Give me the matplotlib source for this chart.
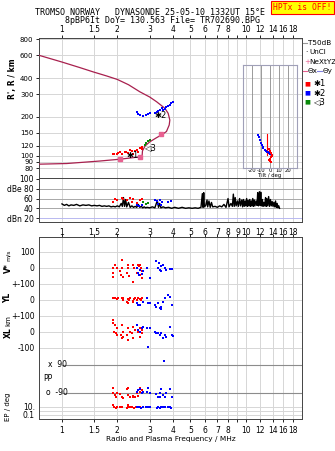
import matplotlib
matplotlib.use("Agg")
import matplotlib.pyplot as plt
import numpy as np

# ---------------- data ----------------
freq_ticks = [1, 1.5, 2, 3, 4, 5, 6, 7, 8, 9, 10, 12, 14, 16, 18]
freq_labels_top = ["1", "1.5", "2", "3", "4", "5", "6", "7", "8", "", "10", "12", "14", "16", "18"]
freq_labels_db = ["1", "1.5", "2", "3", "4", "5", "6", "7", "8", "9", "10", "12", "14", "16", "18"]
freq_labels_bot = freq_labels_top
range_ticks = [80, 90, 100, 120, 150, 200, 300, 400, 600, 800]
db_ticks = [20, 40, 60, 80, 100]
db_labels = ["dBn 20", "40", "60", "dBe 80", "100"]
tilt_ticks = [-20, -10, 0, 10, 20]

# model profile curve (frequency MHz, range km)
profile_freq = [0.75, 1.0, 1.25, 1.48, 1.75, 2.0, 2.3, 2.65, 3.0, 3.27, 3.63, 3.78, 3.86, 3.83,
                3.70, 3.48, 3.27, 3.0, 2.83, 2.74, 2.73, 2.65, 2.07, 1.61, 1.06, 0.75]
profile_range = [600, 532, 482, 446, 415, 390, 355, 313, 285, 262, 233, 213, 189, 173,
                 154, 145, 138, 128, 119, 109, 101, 98, 94, 91, 87, 86]
nextyz_freq = [2.08, 2.65, 3.44]
nextyz_range = [94, 98, 147]

# echoes: *1 (red), *2 (blue), <3 (green)
o_freq = [1.90, 1.93, 1.98, 2.02, 2.07, 2.11, 2.20, 2.24, 2.29, 2.33, 2.39, 2.44, 2.50, 2.55, 2.60, 2.65, 2.71, 2.74]
o_range = [103, 103, 104, 105, 107, 104, 107, 106, 105, 110, 109, 104, 109, 111, 107, 114, 112, 116]
x_freq = [2.55, 2.60, 2.66, 2.76, 2.88, 2.94, 3.0, 3.20, 3.28, 3.34, 3.42, 3.48, 3.55, 3.62, 3.70, 3.78, 3.86, 3.94, 4.0]
x_range = [219, 210, 205, 203, 207, 209, 213, 215, 220, 223, 228, 233, 226, 232, 237, 242, 247, 255, 259]
z_freq = [2.83, 2.88, 2.94, 3.0]
z_range = [122, 126, 130, 132]

# tilt inset (deg, km)
tilt_x_deg = [-12.8, -12.0, -11.0, -10.0, -9.1, -8.2, -7.3, -5.8, -4.4, -3.0, -1.9, -0.8, 0.0]
tilt_x_range = [145, 139, 132, 126, 121, 117, 114, 111, 109, 107, 106, 105, 104]
tilt_o_deg = [-1, 0, 1, 2, 2, 1, 0, -1, 0, 1]
tilt_o_range = [112, 108, 105, 102, 99, 97, 95, 93, 91, 90]
tilt_o_line_deg = [-3, -3]
tilt_o_line_range = [101, 147]

# amplitude panel
noise_freq = [1.00, 1.03, 1.06, 1.09, 1.12, 1.16, 1.20, 1.25, 1.30, 1.35, 1.40, 1.45, 1.50, 1.55,
              1.60, 1.65, 1.70, 1.75, 1.80, 1.85, 1.90, 1.95, 2.00, 2.05, 2.10, 2.13, 2.16, 2.19,
              2.22, 2.25, 2.30, 2.35, 2.40, 2.45, 2.50, 2.55, 2.60, 2.65, 2.70, 2.75, 2.80, 2.85,
              2.90, 3.00, 3.10, 3.20, 3.30, 3.35, 3.40, 3.45, 3.55, 3.65, 3.80, 3.95, 4.10, 4.30,
              4.50, 4.70, 4.90, 5.10, 5.30, 5.50, 5.70, 5.80, 5.85, 5.90, 5.95, 6.05, 6.15, 6.20,
              6.30, 6.40, 6.50, 6.60, 6.80, 7.00, 7.20, 7.40, 7.60, 7.80, 8.00, 8.10, 8.30, 8.45,
              8.55, 8.65, 8.75, 8.85, 9.00, 9.10, 9.25, 9.35, 9.50, 9.60, 9.70, 9.80, 9.90, 10.0,
              10.1, 10.2, 10.3, 10.4, 10.5, 10.6, 10.7, 10.8, 10.9, 11.0, 11.1, 11.2, 11.35, 11.5,
              11.6, 11.7, 11.85, 11.95, 12.05, 12.15, 12.3, 12.4, 12.5, 12.65, 12.8, 12.9, 13.0,
              13.15, 13.3, 13.45, 13.6, 13.75, 13.9, 14.05, 14.2, 14.35, 14.5, 14.65, 14.8, 14.95,
              15.1, 15.25]
noise_db = [49, 46, 48, 45, 47, 46, 48, 45, 47, 46, 47, 45, 46, 45,
            46, 44, 45, 44, 45, 43, 44, 43, 45, 43, 50, 44, 62, 44,
            58, 43, 52, 42, 45, 42, 44, 42, 48, 42, 44, 41, 43, 41,
            42, 41, 43, 41, 56, 42, 50, 41, 43, 41, 42, 40, 42, 40,
            42, 40, 41, 40, 41, 40, 42, 70, 42, 72, 43, 46, 57, 43,
            55, 42, 52, 43, 44, 42, 45, 43, 48, 42, 60, 43, 50, 44,
            69, 44, 62, 45, 55, 44, 60, 45, 57, 43, 58, 44, 55, 45,
            60, 44, 56, 45, 58, 44, 55, 45, 60, 44, 57, 45, 55, 46,
            72, 45, 74, 46, 73, 45, 58, 44, 52, 45, 62, 44, 60,
            45, 64, 44, 58, 45, 54, 44, 52, 43, 55, 42, 50, 41,
            45, 40]
amp_o_freq = [1.90, 1.94, 1.98, 2.11, 2.15, 2.25, 2.34, 2.39, 2.44, 2.55, 2.65, 2.71]
amp_o_db = [53, 60, 57, 62, 60, 57, 62, 53, 60, 50, 57, 60]
amp_x_freq = [2.55, 2.62, 2.71, 3.20, 3.27, 3.33, 3.40, 3.45, 3.48, 3.78, 3.94]
amp_x_db = [47, 45, 47, 58, 54, 49, 56, 47, 52, 53, 55]
amp_z_freq = [2.76, 2.85, 2.94]
amp_z_db = [52, 49, 50]

# Doppler velocity V* (m/s)
v_o_freq = [1.886, 1.942, 1.984, 1.886, 1.900, 2.109, 2.109, 2.066, 2.091, 2.134, 2.277, 2.295,
            2.249, 2.322, 2.440, 2.462, 2.421, 2.546, 2.598, 2.654, 2.686, 2.709, 2.654, 2.741, 2.631]
v_o_val = [0, 21, 0, -31, -58, 52, 0, -21, -42, -58, 21, 0, -31, -52, 21, 0, -89, -31, 21, 17, 0,
           -21, -42, -62, 10]
v_x_freq = [2.546, 2.580, 2.631, 2.654, 2.709, 2.764, 2.882, 3.005, 3.266, 3.333, 3.402, 3.444,
            3.472, 3.543, 3.619, 3.694, 3.862, 3.942, 3.374]
v_x_val = [0, -31, -42, -10, -37, -21, 0, -62, 42, 0, -10, -21, 10, 21, 0, -10, -4, -6, 31]

# YL (km)
yl_o_freq = [1.886, 1.92, 1.942, 1.984, 2.02, 2.109, 2.134, 2.16, 2.249, 2.277, 2.322, 2.341,
             2.421, 2.462, 2.493, 2.546, 2.598, 2.654, 2.686, 2.741, 2.277, 2.440]
yl_o_val = [15, 10, 15, 6, 10, 10, 0, 10, -10, 6, 0, 10, -6, 6, 10, 0, 10, 6, 0, 10, -21, -10]
yl_x_freq = [2.546, 2.598, 2.654, 2.764, 2.882, 3.005, 3.201, 3.266, 3.333, 3.402, 3.472, 3.543,
             3.619, 3.771, 3.862, 3.942, 2.943, 3.444]
yl_x_val = [-21, -31, -31, -10, 10, -21, -31, -42, -21, -52, -42, -10, 10, 31, 21, -31, -21, -56]

# XL (km)
xl_o_freq = [1.886, 1.900, 1.942, 1.984, 1.92, 1.97, 2.109, 2.134, 2.091, 2.16, 2.295, 2.341,
             2.249, 2.391, 2.440, 2.493, 2.546, 2.598, 2.654, 2.709, 2.654, 2.741, 2.421, 2.277,
             2.109, 1.984]
xl_o_val = [75, 54, 44, 23, 2, -8, 44, 2, -19, -29, 23, 2, -19, -8, 33, 12, 44, 2, 23, -8, -29,
            12, -40, -50, -40, -19]
xl_x_freq = [2.56, 2.598, 2.654, 2.709, 2.764, 2.882, 3.005, 3.201, 3.266, 3.333, 3.402, 3.472,
             3.543, 3.619, 3.694, 3.862, 3.942, 3.992, 2.943, 3.58]
xl_x_val = [44, 12, 2, 23, 33, 23, 23, 2, -8, -8, -19, -8, -40, -19, -29, 33, -19, -23, -92, -179]

# polarization PP (deg) and EP (deg)
pp_o_freq = [1.886, 1.900, 1.942, 1.96, 1.984, 2.08, 2.109, 2.134, 2.249, 2.295, 2.295, 2.341,
             2.421, 2.493, 2.546, 2.598, 2.654, 2.67, 2.709, 2.741, 2.440]
pp_o_val = [-60, -88, -103, -118, -92, -96, -114, -124, -66, -60, -103, -114, -114, -114, -92,
            -109, -60, -81, -92, -71, -109]
pp_x_freq = [2.546, 2.598, 2.654, 2.709, 2.764, 2.882, 2.943, 3.005, 3.266, 3.333, 3.402, 3.472,
             3.543, 3.619, 3.694, 3.862, 3.942, 3.402]
pp_x_val = [-81, -71, -66, -92, -81, -81, -60, -88, -96, -114, -92, -66, -103, -114, -92, -66,
            -114, -118]
ep_o_freq = [1.886, 1.92, 1.96, 2.0, 2.07, 2.11, 2.25, 2.28, 2.30, 2.34, 2.40, 2.46, 2.52, 2.60,
             2.65, 2.70]
ep_o_val = [31, 8, 6, 10, 8, 12, 6, 31, 10, 8, 12, 6, 10, 8, 12, 6]
ep_x_freq = [2.55, 2.62, 2.68, 2.76, 2.88, 2.94, 3.0, 3.27, 3.33, 3.40, 3.44, 3.50, 3.57, 3.65,
             3.78, 3.86, 3.94]
ep_x_val = [8, 12, 6, 10, 8, 12, 10, 6, 10, 4.7, 8, 12, 10, 8, 10, 12, 6]

# ---------------- layout ----------------
W_PX, H_PX = 335, 451
fig = plt.figure(figsize=(W_PX / 100, H_PX / 100), dpi=100)
plt.rcParams['font.family'] = ['DejaVu Sans']


def fx(px):
    return px / W_PX


def fy(py):
    return 1 - py / H_PX


def rect(left, top, right, bottom):
    return [fx(left), fy(bottom), fx(right) - fx(left), (bottom - top) / H_PX]


L, R = 39, 302
XMIN, XMAX = 0.75, 20.2
RED, BLUE, GREEN = '#ff0000', '#0000ff', '#0a8a0a'
CURVE = '#a8204e'
PINK = '#e86090'
GRID = '#d6d6d6'
FS = 5.5


def freq_axis(ax):
    ax.set_xscale('log')
    ax.set_xlim(XMIN, XMAX)
    ax.xaxis.set_minor_locator(matplotlib.ticker.NullLocator())
    ax.set_xticks(freq_ticks)
    for f in freq_ticks:
        ax.axvline(f, color=GRID, lw=0.7, zorder=0)
    for s in ax.spines.values():
        s.set_color('#444444')
        s.set_linewidth(0.7)


# ---- top panel: range vs frequency ----
ax1 = fig.add_axes(rect(L, 38, R, 178))
freq_axis(ax1)
ax1.set_yscale('log')
Y_LO, Y_HI = 67.2, 817
ax1.set_ylim(Y_LO, Y_HI)
ax1.yaxis.set_minor_locator(matplotlib.ticker.NullLocator())
ax1.set_yticks(range_ticks)
ax1.set_yticklabels([str(v) for v in range_ticks])
for v in range_ticks:
    ax1.axhline(v, color=GRID, lw=0.7, zorder=0)
ax1.xaxis.tick_top()
ax1.set_xticklabels(freq_labels_top)
ax1.tick_params(axis='x', top=True, bottom=False, labeltop=True, labelbottom=False,
                length=2, pad=1, labelsize=FS, width=0.6)
ax1.tick_params(axis='y', length=2, pad=2, labelsize=5, width=0.6)

ax1.plot(profile_freq, profile_range, color=CURVE, lw=0.9, zorder=3)
ax1.plot(nextyz_freq, nextyz_range, ls='none', marker='s', ms=2.2, color=PINK, zorder=4)
ax1.scatter(o_freq, o_range, marker='s', s=4, color=RED, lw=0, zorder=5)
ax1.scatter(x_freq, x_range, marker='s', s=4, color=BLUE, lw=0, zorder=5)
ax1.scatter(z_freq, z_range, marker='s', s=4, color=GREEN, lw=0, zorder=5)
ax1.text(2.42, 101, "✱1", fontsize=6, ha='center', va='center', zorder=6)
ax1.text(3.42, 205, "✱2", fontsize=6, ha='center', va='center', zorder=6)
ax1.text(3.02, 116, "◁3", fontsize=6, ha='center', va='center', zorder=6)

# tilt inset, aligned with the main range scale
ins_top, ins_bot = 65, 167.7
lo, hi = np.log10(Y_LO), np.log10(Y_HI)
frac_top = (178 - ins_top) / 140
frac_bot = (178 - ins_bot) / 140
axi = fig.add_axes(rect(242.7, ins_top, 297.3, ins_bot), facecolor='none')
axi.set_yscale('log')
axi.set_ylim(10 ** (lo + frac_bot * (hi - lo)), 10 ** (lo + frac_top * (hi - lo)))
axi.set_xlim(-30, 30)
axi.set_yticks([])
axi.yaxis.set_minor_locator(matplotlib.ticker.NullLocator())
axi.set_xticks(tilt_ticks)
axi.set_xticklabels([str(t) for t in tilt_ticks])
axi.tick_params(axis='x', length=0, pad=0.5, labelsize=3.8)
for t in tilt_ticks:
    axi.axvline(t, color='#8a8a8a', lw=0.6, zorder=0)
for s in axi.spines.values():
    s.set_color('#a0a0b8')
    s.set_linewidth(0.8)
axi.plot(tilt_o_line_deg, tilt_o_line_range, color=RED, lw=0.8)
axi.scatter(tilt_x_deg, tilt_x_range, marker='s', s=4, color=BLUE, lw=0, zorder=5)
axi.scatter(tilt_o_deg, tilt_o_range, marker='s', s=4, color=RED, lw=0, zorder=5)
fig.text(fx(270), fy(175.8), "Tilt / deg", fontsize=3.8, ha='center', va='center')

# legend column
lx = 303
fig.add_artist(plt.Line2D([fx(lx), fx(lx + 4)], [fy(43), fy(43)], color='#999999', lw=0.8))
fig.text(fx(lx + 5), fy(43), "T50dB", fontsize=5.2, va='center')
fig.text(fx(lx + 2), fy(52), "·", fontsize=5.2, va='center')
fig.text(fx(lx + 6), fy(52.5), "UnCl", fontsize=5.2, va='center')
fig.text(fx(lx + 1), fy(61.5), "+", fontsize=5.2, va='center', color=PINK)
fig.text(fx(lx + 6), fy(61.5), "NeXtYZ", fontsize=5.2, va='center')
fig.add_artist(plt.Line2D([fx(lx), fx(lx + 4)], [fy(71), fy(71)], color=PINK, lw=0.8))
fig.text(fx(lx + 5), fy(71), "Θx", fontsize=5.2, va='center')
fig.add_artist(plt.Line2D([fx(lx + 14), fx(lx + 19)], [fy(71), fy(71)], color='#8080e0', lw=0.8))
fig.text(fx(lx + 20), fy(71), "Θy", fontsize=5.2, va='center')
for yy, col, lab in [(84, RED, "✱1"), (93, BLUE, "✱2"), (102, GREEN, "◁3")]:
    fig.text(fx(lx + 1), fy(yy), "■", fontsize=4.5, va='center', color=col)
    fig.text(fx(lx + 10), fy(yy), lab, fontsize=6, va='center')

# ---- amplitude panel ----
ax2 = fig.add_axes(rect(L, 178, R, 222))
freq_axis(ax2)
ax2.set_ylim(12, 102)
ax2.set_yticks(db_ticks)
ax2.set_yticklabels(db_labels)
for v, c in [(80, '#a8a8a8'), (60, '#a8a8a8'), (40, '#a8a8a8'), (20, '#b8b8f0')]:
    ax2.axhline(v, color=c, lw=0.7, zorder=0)
ax2.set_xticklabels(freq_labels_db)
ax2.tick_params(axis='x', length=0, pad=4, labelsize=FS)
ax2.tick_params(axis='y', length=2, pad=2, labelsize=FS, width=0.6)
ax2.plot(noise_freq, noise_db, color='black', lw=1.0, zorder=3)
ax2.scatter(amp_o_freq, amp_o_db, marker='s', s=4, color=RED, lw=0, zorder=5)
ax2.scatter(amp_x_freq, amp_x_db, marker='s', s=4, color=BLUE, lw=0, zorder=5)
ax2.scatter(amp_z_freq, amp_z_db, marker='s', s=4, color=GREEN, lw=0, zorder=5)

# ---- bottom panel frame (rows measured in pixels of the panel) ----
TOP_ROW, BOT_ROW = 237, 419
bot_rect = rect(L, TOP_ROW, R, BOT_ROW)
ax3 = fig.add_axes(bot_rect)
freq_axis(ax3)
ax3.set_ylim(BOT_ROW, TOP_ROW)
row_ticks = [252, 268, 284, 300, 316, 332, 348, 407, 415]
row_labels = ["100", "0", "+-100", "0", "+-100", "0", "-100", "10.", "0.1"]
ax3.set_yticks(row_ticks)
ax3.set_yticklabels(row_labels)
for r in row_ticks + [411]:
    ax3.axhline(r, color=GRID, lw=0.7, zorder=0)
x1 = (np.log10(1) - np.log10(XMIN)) / (np.log10(XMAX) - np.log10(XMIN))
for r in [365, 393]:
    ax3.axhline(r, xmin=x1, color='#8c8c8c', lw=0.8, zorder=1)
ax3.text(0.033, 365, "x  90", transform=ax3.get_yaxis_transform(), fontsize=FS, va='center')
ax3.text(0.028, 393, "o  -90", transform=ax3.get_yaxis_transform(), fontsize=FS, va='center')
ax3.text(0.015, 379, "PP", transform=ax3.get_yaxis_transform(), fontsize=FS, va='center')
ax3.set_xticklabels(freq_labels_bot)
ax3.tick_params(axis='x', top=True, direction='out', length=2, pad=3, labelsize=FS, width=0.6)
ax3.tick_params(axis='y', length=0, pad=3, labelsize=FS)


def band(zero_row, px_per_unit):
    a = fig.add_axes(bot_rect, facecolor='none')
    a.set_xscale('log')
    a.set_xlim(XMIN, XMAX)
    a.set_ylim((zero_row - BOT_ROW) / px_per_unit, (zero_row - TOP_ROW) / px_per_unit)
    a.axis('off')
    return a


ax_v = band(268, 0.16)
ax_yl = band(300, 0.16)
ax_xl = band(332, 0.16)
ax_pp = band(379, 28 / 180)
ax_ep = fig.add_axes(bot_rect, facecolor='none')
ax_ep.set_xscale('log')
ax_ep.set_xlim(XMIN, XMAX)
ax_ep.set_yscale('log')
ax_ep.set_ylim(10 ** (1 + (407 - BOT_ROW) / 4), 10 ** (1 + (407 - TOP_ROW) / 4))
ax_ep.axis('off')

for a, fo, vo, fxx, vx in [(ax_v, v_o_freq, v_o_val, v_x_freq, v_x_val),
                            (ax_yl, yl_o_freq, yl_o_val, yl_x_freq, yl_x_val),
                            (ax_xl, xl_o_freq, xl_o_val, xl_x_freq, xl_x_val),
                            (ax_pp, pp_o_freq, pp_o_val, pp_x_freq, pp_x_val),
                            (ax_ep, ep_o_freq, ep_o_val, ep_x_freq, ep_x_val)]:
    a.scatter(fo, vo, marker='s', s=4, color=RED, lw=0, zorder=5)
    a.scatter(fxx, vx, marker='s', s=4, color=BLUE, lw=0, zorder=5)

# ---- texts ----
mono = 'DejaVu Sans Mono'
fig.text(fx(35), fy(12.3), "TROMSO NORWAY   DYNASONDE 25-05-10 1332UT 15°E",
         family=mono, fontsize=6, va='center', ha='left')
fig.text(fx(65), fy(20.7), "8pBP6It DoY= 130.563 File= TR702690.BPG",
         family=mono, fontsize=6, va='center', ha='left')
fig.text(fx(302.5), fy(7.3), "HPTx is OFF!", family=mono, fontsize=5.8, color='red',
         ha='center', va='center',
         bbox=dict(boxstyle='square,pad=0.25', fc='#ffff00', ec='red', lw=0.8))

fig.text(fx(12), fy(79), "R', R / km", rotation=90, fontsize=5.5, fontweight='bold',
         ha='center', va='center')
fig.text(fx(8), fy(268), "V*", rotation=90, fontsize=5.5, fontweight='bold', ha='center', va='center')
fig.text(fx(8), fy(255), "m/s", rotation=90, fontsize=4.5, ha='center', va='center')
fig.text(fx(8), fy(298), "YL", rotation=90, fontsize=5.5, fontweight='bold', ha='center', va='center')
fig.text(fx(8), fy(321), "km", rotation=90, fontsize=5, ha='center', va='center')
fig.text(fx(8), fy(333), "XL", rotation=90, fontsize=5.5, fontweight='bold', ha='center', va='center')
fig.text(fx(8), fy(407), "EP / deg", rotation=90, fontsize=5, ha='center', va='center')
fig.text(fx(170.5), fy(439), "Radio and Plasma Frequency / MHz", fontsize=5.3,
         ha='center', va='center')

fig.savefig("out.png", dpi=100)
